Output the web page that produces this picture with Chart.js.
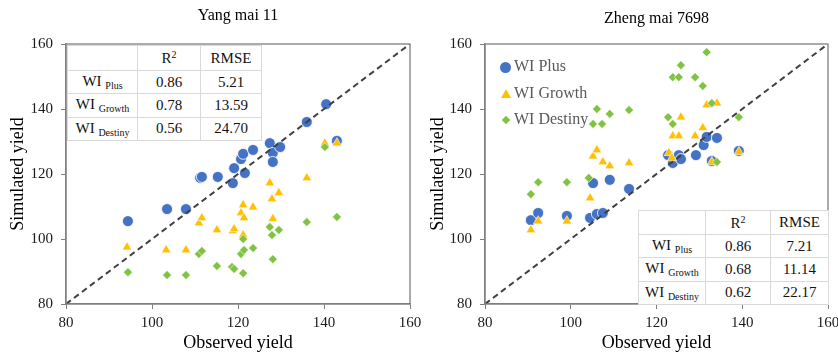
<!DOCTYPE html>
<html>
<head>
<meta charset="utf-8">
<script src="https://cdn.jsdelivr.net/npm/chart.js@4.4.1/dist/chart.umd.min.js"></script>
<style>
  body { margin: 0; background: #fff; overflow: hidden; }
  #wrap { position: relative; width: 838px; height: 354px; overflow: hidden; font-family: 'Liberation Serif', 'DejaVu Serif', serif; }
  canvas { position: absolute; top: 0; }
  #c1 { left: 0; }
  #c2 { left: 420px; }
  table.stats { position: absolute; border-collapse: collapse; background: #fff; border: 1.5px solid #595959; color: #111; font-size: 15px; }
  table.stats td { border: 1px solid #d9d9d9; text-align: center; padding: 0; }
  table.stats sub { font-size: 10px; vertical-align: -3px; }
  table.stats sup { font-size: 10px; vertical-align: 5px; }
  .legend { position: absolute; left: 500px; top: 54px; color: #595959; font-size: 16px; }
  .legend div { height: 26.5px; line-height: 24px; white-space: nowrap; }
  .mk { display: inline-block; vertical-align: middle; margin-right: 3px; }
</style>
</head>
<body>
<div id="wrap">
  <canvas id="c1" width="430" height="354"></canvas>
  <canvas id="c2" width="430" height="354"></canvas>

  <table class="stats" style="left:67px; top:45px; width:195px; height:96px;">
    <tr style="height:25px"><td style="width:69px"></td><td style="width:62px">R<sup>2</sup></td><td>RMSE</td></tr>
    <tr><td>WI <sub>Plus</sub></td><td>0.86</td><td>5.21</td></tr>
    <tr><td>WI <sub>Growth</sub></td><td>0.78</td><td>13.59</td></tr>
    <tr><td>WI <sub>Destiny</sub></td><td>0.56</td><td>24.70</td></tr>
  </table>

  <table class="stats" style="left:638px; top:210px; width:191px; height:95px;">
    <tr style="height:24px"><td style="width:66px"></td><td style="width:64px">R<sup>2</sup></td><td>RMSE</td></tr>
    <tr><td>WI <sub>Plus</sub></td><td>0.86</td><td>7.21</td></tr>
    <tr><td>WI <sub>Growth</sub></td><td>0.68</td><td>11.14</td></tr>
    <tr><td>WI <sub>Destiny</sub></td><td>0.62</td><td>22.17</td></tr>
  </table>

  <div class="legend">
    <div><span class="mk" style="width:11px;height:11px;border-radius:50%;background:#4472C4"></span>WI Plus</div>
    <div><span class="mk" style="width:0;height:0;border-left:5px solid transparent;border-right:5px solid transparent;border-bottom:9px solid #FFC000;margin-left:1px"></span>WI Growth</div>
    <div><span class="mk" style="width:6px;height:6px;background:#80C342;transform:rotate(45deg);margin-left:3px;margin-right:5px"></span>WI Destiny</div>
  </div>
</div>

<script>
// Yang mai 11
const yangPlusX = [94.4, 103.5, 107.9, 111.2, 111.6, 115.3, 118.8, 119.1, 120.7, 121.2, 121.6, 123.5, 127.4, 128.1, 128.1, 129.8, 136.0, 140.5, 143.0];
const yangPlusY = [105.5, 109.2, 109.2, 118.8, 119.1, 119.1, 117.2, 121.8, 124.6, 126.2, 120.3, 127.4, 129.5, 126.5, 123.7, 128.3, 136.0, 141.5, 130.2];
const yangGrowthX = [94.2, 103.3, 107.9, 110.9, 111.6, 115.1, 118.8, 119.1, 120.7, 121.2, 121.4, 121.2, 123.5, 127.4, 127.9, 128.1, 129.5, 136.0, 140.2, 143.0];
const yangGrowthY = [97.5, 96.6, 96.6, 104.9, 106.5, 102.8, 102.5, 103.1, 108.0, 110.5, 106.5, 101.2, 109.8, 117.2, 112.3, 106.2, 114.2, 118.8, 129.5, 129.5];
const yangDestinyX = [94.4, 103.5, 107.9, 110.9, 111.6, 115.1, 118.6, 119.1, 121.2, 120.7, 121.4, 121.2, 123.5, 127.4, 127.9, 128.1, 129.5, 136.0, 140.2, 143.0];
const yangDestinyY = [89.8, 88.9, 88.9, 95.4, 96.3, 91.7, 91.4, 90.8, 89.5, 95.4, 96.6, 100.0, 97.2, 103.7, 101.2, 93.8, 102.8, 105.2, 128.3, 106.8];

// Zheng mai 7698
const zhengPlusX = [90.7, 92.4, 99.1, 104.5, 106.1, 107.5, 105.2, 109.1, 113.6, 122.7, 123.8, 125.2, 125.7, 129.2, 131.0, 131.7, 134.1, 132.9, 139.2];
const zhengPlusY = [105.8, 108.0, 107.1, 106.5, 107.7, 108.0, 117.2, 118.2, 115.4, 125.8, 123.4, 125.8, 124.6, 125.8, 128.9, 131.4, 131.1, 124.0, 127.1];
const zhengGrowthX = [90.7, 92.4, 99.1, 104.5, 105.2, 106.1, 107.5, 109.1, 113.6, 122.9, 123.6, 123.8, 125.2, 125.7, 129.0, 130.8, 131.7, 134.1, 132.9, 139.2];
const zhengGrowthY = [102.8, 105.5, 105.5, 112.6, 125.5, 127.4, 123.7, 122.5, 123.4, 126.5, 124.9, 131.7, 131.7, 137.5, 131.7, 134.2, 141.2, 141.8, 123.7, 126.8];
const zhengDestinyX = [90.7, 92.4, 99.1, 104.2, 106.1, 109.1, 113.6, 105.2, 107.3, 122.7, 123.8, 123.8, 125.2, 125.7, 129.0, 130.8, 131.7, 132.9, 134.1, 139.2];
const zhengDestinyY = [113.8, 117.5, 117.5, 118.8, 140.0, 138.5, 139.7, 135.4, 135.4, 137.5, 135.4, 149.8, 149.8, 153.5, 149.8, 147.1, 157.5, 141.8, 123.7, 137.5];

const axisTicks = [80, 100, 120, 140, 160];
const serif = "'Liberation Serif', 'Times New Roman', serif";

Chart.defaults.font.family = serif;

function pts(xs, ys) { return xs.map((x, i) => ({x: x, y: ys[i]})); }

const framePlugin = {
  id: 'frame',
  afterDraw(chart, args, opts) {
    const {ctx, chartArea: a} = chart;
    ctx.save();
    ctx.strokeStyle = '#7f7f7f';
    ctx.lineWidth = 1.3;
    ctx.strokeRect(a.left, a.top, a.right - a.left, a.bottom - a.top);
    ctx.fillStyle = '#000';
    ctx.font = '16px ' + serif;
    ctx.textAlign = 'center';
    ctx.textBaseline = 'middle';
    ctx.fillText(opts.title, (a.left + a.right) / 2, opts.titleY);
    ctx.restore();
  }
};

function makeChart(id, plusPts, growthPts, destinyPts, title, titleY, yWidth, padRight) {
  const scaleBase = {
    type: 'linear', min: 80, max: 160,
    afterBuildTicks: s => { s.ticks = axisTicks.map(v => ({value: v})); },
    grid: { drawOnChartArea: false, drawTicks: true, tickLength: 5, color: '#7f7f7f' },
    border: { color: '#7f7f7f', width: 1.3 },
    ticks: { color: '#1a1a1a', font: { family: serif, size: 15 } }
  };
  new Chart(document.getElementById(id), {
    type: 'scatter',
    data: {
      datasets: [
        { label: 'y=x', type: 'line', data: [{x: 80, y: 80}, {x: 160, y: 160}], borderColor: '#404040',
          borderWidth: 2, borderDash: [6, 4], pointRadius: 0, order: 0 },
        { label: 'WI Plus', data: plusPts, pointStyle: 'circle', pointRadius: 5.5, backgroundColor: '#4472C4',
          borderColor: '#ffffff', borderWidth: 0.8, order: 3 },
        { label: 'WI Growth', data: growthPts, pointStyle: 'triangle', pointRadius: 5.5, backgroundColor: '#FFC000',
          borderColor: '#ffffff', borderWidth: 0.6, order: 2 },
        { label: 'WI Destiny', data: destinyPts, pointStyle: 'rectRot', pointRadius: 4.5, backgroundColor: '#80C342',
          borderColor: '#ffffff', borderWidth: 0.6, order: 1 }
      ]
    },
    options: {
      responsive: false,
      animation: false,
      layout: { padding: { top: 44, right: padRight, bottom: 0, left: 0 } },
      plugins: {
        legend: { display: false },
        tooltip: { enabled: false },
        frame: { title: title, titleY: titleY }
      },
      scales: {
        x: Object.assign({}, scaleBase, {
          afterFit: s => { s.height = 50; },
          ticks: Object.assign({}, scaleBase.ticks, { padding: 5 }),
          title: { display: true, text: 'Observed yield', color: '#000', padding: { top: 0, bottom: 0 },
                   font: { family: serif, size: 18 } }
        }),
        y: Object.assign({}, scaleBase, {
          afterFit: s => { s.width = yWidth; },
          ticks: Object.assign({}, scaleBase.ticks, { padding: 8 }),
          title: { display: true, text: 'Simulated yield', color: '#000', padding: { top: 7, bottom: 0 },
                   font: { family: serif, size: 18 } }
        })
      }
    },
    plugins: [framePlugin]
  });
}

makeChart('c1', pts(yangPlusX, yangPlusY), pts(yangGrowthX, yangGrowthY), pts(yangDestinyX, yangDestinyY),
  'Yang mai 11', 16, 66, 20);
makeChart('c2', pts(zhengPlusX, zhengPlusY), pts(zhengGrowthX, zhengGrowthY), pts(zhengDestinyX, zhengDestinyY),
  'Zheng mai 7698', 19, 65, 22);
</script>
</body>
</html>
